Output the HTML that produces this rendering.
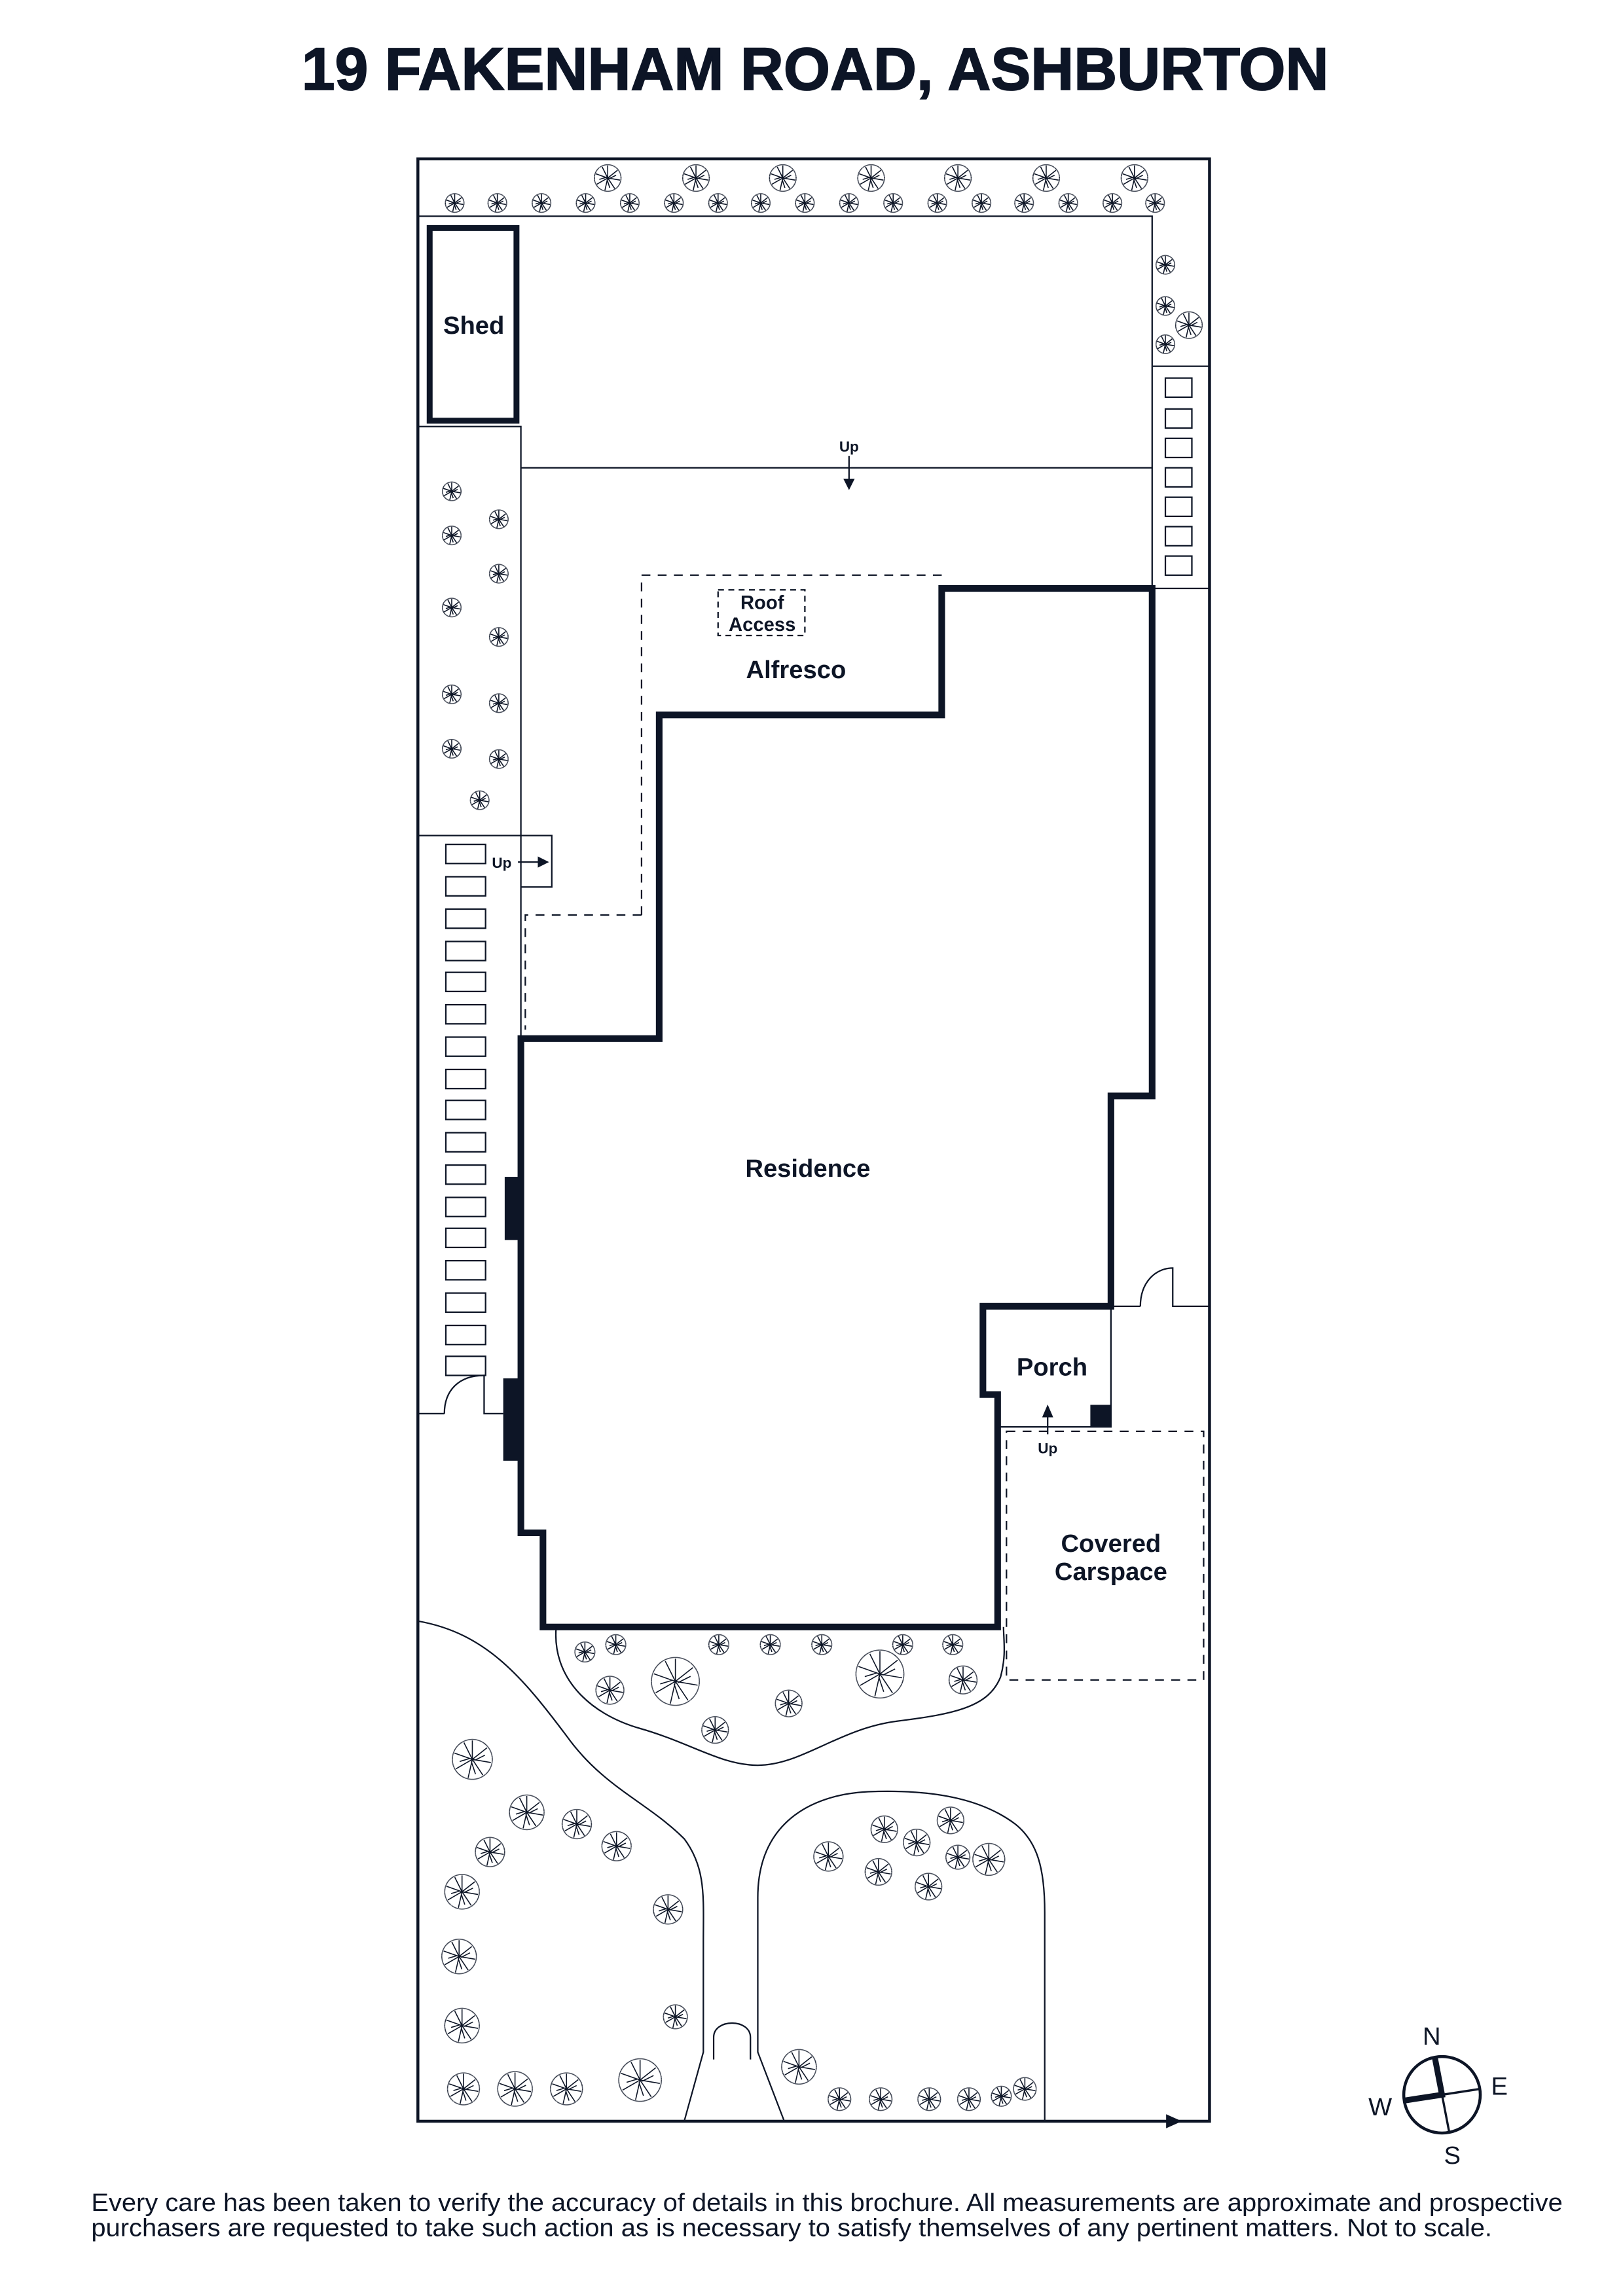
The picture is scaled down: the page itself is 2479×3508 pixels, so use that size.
<!DOCTYPE html>
<html><head><meta charset="utf-8"><style>
html,body{margin:0;padding:0;background:#fff}
svg{display:block}
</style></head><body>
<svg width="2479" height="3508" viewBox="0 0 1103 1560.8" preserveAspectRatio="none" xmlns="http://www.w3.org/2000/svg">
<defs>
<symbol id="t" viewBox="-1.05 -1.05 2.1 2.1">
<g fill="none" stroke="#0d1526" stroke-width="1.6" vector-effect="non-scaling-stroke">
<circle r="0.95" stroke-dasharray="0.15 0.05" vector-effect="non-scaling-stroke"/>
<path d="M0,0L0,-0.9M0,0L0.7,-0.55M0,0L0.88,0.15M0,0L0.5,0.75M0,0L-0.2,0.88M0,0L-0.78,0.45M0,0L-0.85,-0.3M0,0L-0.4,-0.8M0.1,0.05L0.6,-0.2M-0.05,0.1L0.15,0.7M-0.1,-0.05L-0.6,0.1" vector-effect="non-scaling-stroke"/>
</g>
</symbol>
</defs>
<g font-family="Liberation Sans, sans-serif" fill="#0d1526">
<text x="554" y="61" font-size="41" font-weight="bold" text-anchor="middle" textLength="698" lengthAdjust="spacingAndGlyphs" stroke="#0d1526" stroke-width="0.8">19 FAKENHAM ROAD, ASHBURTON</text>
</g>
<g fill="none" stroke="#0d1526" stroke-width="1">
<rect x="284" y="108" width="538" height="1334" stroke-width="2"/>
<path d="M284,147H783V400M783,249H822M783,400H822M284,290H354V706M354,318H783M284,568H354M354,568H375V603H354"/>
<rect x="292" y="155" width="59" height="131" stroke-width="4"/>
<path d="M577,310V328" /><path d="M574,326L577,332L580,326Z" fill="#0d1526"/>
<path d="M352,586H368"/><path d="M366,583L372,586L366,589Z" fill="#0d1526"/>
<g stroke-width="1">
<rect x="792" y="257" width="18" height="13"/><rect x="792" y="278" width="18" height="13"/><rect x="792" y="298" width="18" height="13"/><rect x="792" y="318" width="18" height="13"/><rect x="792" y="338" width="18" height="13"/><rect x="792" y="358" width="18" height="13"/><rect x="792" y="378" width="18" height="13"/>
</g>
<g>
<rect x="303" y="574" width="27" height="13"/><rect x="303" y="596" width="27" height="13"/><rect x="303" y="618" width="27" height="13"/><rect x="303" y="640" width="27" height="13"/><rect x="303" y="661" width="27" height="13"/><rect x="303" y="683" width="27" height="13"/><rect x="303" y="705" width="27" height="13"/><rect x="303" y="727" width="27" height="13"/><rect x="303" y="748" width="27" height="13"/><rect x="303" y="770" width="27" height="13"/><rect x="303" y="792" width="27" height="13"/><rect x="303" y="814" width="27" height="13"/><rect x="303" y="835" width="27" height="13"/><rect x="303" y="857" width="27" height="13"/><rect x="303" y="879" width="27" height="13"/><rect x="303" y="901" width="27" height="13"/><rect x="303" y="922" width="27" height="13"/>
</g>
<path d="M436,622V391H640M436,622H357V700" stroke-dasharray="6 5"/>
<rect x="488" y="401" width="59" height="31" stroke-dasharray="4 3"/>
<path d="M640,400H783V745H755V888H668V948H678V1106H369V1042H354V706H448V486H640Z" stroke-width="4.5" stroke-linejoin="miter"/>
<rect x="343" y="800" width="11" height="43" fill="#0d1526" stroke="none"/>
<rect x="342" y="937" width="12" height="56" fill="#0d1526" stroke="none"/>
<path d="M284,961H302M302,961C302,945 312,935 329,935V961H342"/>
<path d="M755,888H775M775,888C775,872 785,862 797,862V888H822"/>
<path d="M755,888V970H678"/>
<rect x="741" y="955" width="14" height="15" fill="#0d1526" stroke="none"/>
<path d="M712,975V962"/><path d="M709,963L712,956L715,963Z" fill="#0d1526"/>
<rect x="684" y="973" width="134" height="169" stroke-dasharray="6 5"/>
<path d="M378,1106C375,1140 400,1165 435,1175C470,1185 490,1200 515,1200C545,1200 570,1175 610,1170C650,1165 672,1160 680,1140C684,1125 682,1115 682,1106"/>
<path d="M284,1102C330,1110 355,1140 385,1180C410,1215 440,1225 465,1250C480,1270 478,1290 478,1320V1395L465,1442"/>
<path d="M485,1400V1385C485,1372 510,1372 510,1385V1400"/>
<path d="M533,1442L515,1395V1290C515,1240 550,1220 590,1218C640,1216 670,1225 690,1240C705,1252 710,1270 710,1300V1442"/>
<path d="M722,1442H795"/><path d="M793,1438L802,1442L793,1446Z" fill="#0d1526"/>
<circle cx="980" cy="1424" r="26" stroke-width="2"/>
<path d="M975,1398L985,1450M954,1428L1006,1420" stroke-width="1.5"/>
<path d="M975,1398L980,1424L954,1428L980,1424" stroke-width="4"/>
</g>
<g font-family="Liberation Sans, sans-serif" fill="#0d1526" font-weight="bold" text-anchor="middle">
<text x="322" y="227" font-size="17">Shed</text>
<text x="577" y="307" font-size="10">Up</text>
<text x="341" y="590" font-size="10">Up</text>
<text x="518" y="414" font-size="13">Roof</text>
<text x="518" y="429" font-size="13">Access</text>
<text x="541" y="461" font-size="17">Alfresco</text>
<text x="549" y="800" font-size="17">Residence</text>
<text x="715" y="935" font-size="17">Porch</text>
<text x="712" y="988" font-size="10">Up</text>
<text x="755" y="1055" font-size="17">Covered</text>
<text x="755" y="1074" font-size="17">Carspace</text>
</g>
<g font-family="Liberation Sans, sans-serif" fill="#0d1526" font-size="17" text-anchor="middle">
<text x="973" y="1390">N</text><text x="1019" y="1424">E</text><text x="938" y="1438">W</text><text x="987" y="1471">S</text>
<text x="562" y="1503" font-size="17" textLength="1000" lengthAdjust="spacingAndGlyphs">Every care has been taken to verify the accuracy of details in this brochure. All measurements are approximate and prospective</text>
<text x="538" y="1520" font-size="17" textLength="952" lengthAdjust="spacingAndGlyphs">purchasers are requested to take such action as is necessary to satisfy themselves of any pertinent matters. Not to scale.</text>
</g>
<g>
<use href="#t" x="302" y="131" width="14" height="14"/><use href="#t" x="331" y="131" width="14" height="14"/><use href="#t" x="361" y="131" width="14" height="14"/><use href="#t" x="391" y="131" width="14" height="14"/><use href="#t" x="421" y="131" width="14" height="14"/><use href="#t" x="451" y="131" width="14" height="14"/><use href="#t" x="481" y="131" width="14" height="14"/><use href="#t" x="510" y="131" width="14" height="14"/><use href="#t" x="540" y="131" width="14" height="14"/><use href="#t" x="570" y="131" width="14" height="14"/><use href="#t" x="600" y="131" width="14" height="14"/><use href="#t" x="630" y="131" width="14" height="14"/><use href="#t" x="660" y="131" width="14" height="14"/><use href="#t" x="689" y="131" width="14" height="14"/><use href="#t" x="719" y="131" width="14" height="14"/><use href="#t" x="749" y="131" width="14" height="14"/><use href="#t" x="778" y="131" width="14" height="14"/>
<use href="#t" x="403" y="110" width="20" height="22"/><use href="#t" x="463" y="110" width="20" height="22"/><use href="#t" x="522" y="110" width="20" height="22"/><use href="#t" x="582" y="110" width="20" height="22"/><use href="#t" x="641" y="110" width="20" height="22"/><use href="#t" x="701" y="110" width="20" height="22"/><use href="#t" x="761" y="110" width="20" height="22"/>
<use href="#t" x="785" y="173" width="14" height="14"/><use href="#t" x="785" y="201" width="14" height="14"/><use href="#t" x="798" y="210" width="20" height="22"/><use href="#t" x="785" y="227" width="14" height="14"/>
<use href="#t" x="300" y="327" width="14" height="14"/><use href="#t" x="332" y="346" width="14" height="14"/><use href="#t" x="300" y="357" width="14" height="14"/><use href="#t" x="332" y="383" width="14" height="14"/><use href="#t" x="300" y="406" width="14" height="14"/><use href="#t" x="332" y="426" width="14" height="14"/><use href="#t" x="300" y="465" width="14" height="14"/><use href="#t" x="332" y="471" width="14" height="14"/><use href="#t" x="300" y="502" width="14" height="14"/><use href="#t" x="332" y="509" width="14" height="14"/><use href="#t" x="319" y="537" width="14" height="14"/>
<use href="#t" x="390" y="1115" width="15" height="16"/><use href="#t" x="411" y="1110" width="15" height="16"/><use href="#t" x="481" y="1110" width="15" height="16"/><use href="#t" x="516" y="1110" width="15" height="16"/><use href="#t" x="551" y="1110" width="15" height="16"/><use href="#t" x="606" y="1110" width="15" height="16"/><use href="#t" x="640" y="1110" width="15" height="16"/>
<use href="#t" x="441" y="1125" width="36" height="36"/><use href="#t" x="404" y="1137" width="21" height="24"/><use href="#t" x="580" y="1120" width="36" height="36"/><use href="#t" x="644" y="1130" width="21" height="24"/><use href="#t" x="526" y="1147" width="20" height="22"/><use href="#t" x="476" y="1165" width="20" height="22"/>
<use href="#t" x="306" y="1180" width="30" height="32"/><use href="#t" x="345" y="1218" width="26" height="28"/><use href="#t" x="322" y="1247" width="22" height="24"/><use href="#t" x="381" y="1228" width="22" height="24"/><use href="#t" x="408" y="1243" width="22" height="24"/><use href="#t" x="301" y="1272" width="26" height="28"/><use href="#t" x="443" y="1286" width="22" height="24"/><use href="#t" x="299" y="1316" width="26" height="28"/><use href="#t" x="301" y="1363" width="26" height="28"/><use href="#t" x="450" y="1361" width="18" height="20"/><use href="#t" x="303" y="1407" width="24" height="26"/><use href="#t" x="337" y="1406" width="26" height="28"/><use href="#t" x="373" y="1407" width="24" height="26"/><use href="#t" x="419" y="1397" width="32" height="34"/>
<use href="#t" x="552" y="1250" width="22" height="24"/><use href="#t" x="591" y="1233" width="20" height="21"/><use href="#t" x="613" y="1242" width="20" height="21"/><use href="#t" x="636" y="1227" width="20" height="21"/><use href="#t" x="660" y="1251" width="24" height="26"/><use href="#t" x="587" y="1262" width="20" height="21"/><use href="#t" x="621" y="1272" width="20" height="21"/><use href="#t" x="642" y="1253" width="18" height="19"/>
<use href="#t" x="530" y="1391" width="26" height="28"/><use href="#t" x="562" y="1418" width="17" height="18"/><use href="#t" x="590" y="1418" width="17" height="18"/><use href="#t" x="623" y="1418" width="17" height="18"/><use href="#t" x="650" y="1418" width="17" height="18"/><use href="#t" x="673" y="1417" width="15" height="16"/><use href="#t" x="688" y="1411" width="17" height="18"/>
</g>
</svg>
</body></html>
